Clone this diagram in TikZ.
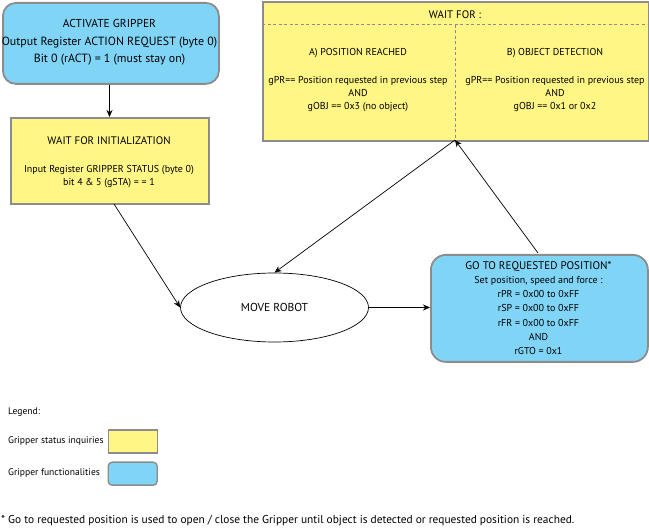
\documentclass[tikz,border=0pt]{standalone}
\usepackage{fontspec}
\setmainfont{PT Sans}
\usetikzlibrary{arrows.meta,shapes.geometric}
\definecolor{ylw}{HTML}{FFF685}
\definecolor{blu}{HTML}{80D5F7}
\definecolor{bdr}{HTML}{8C8C8C}
\tikzset{
  box/.style={draw=bdr,line width=1.8pt,inner sep=0pt,anchor=north west},
  yel/.style={box,fill=ylw},
  blue/.style={box,fill=blu,rounded corners=13pt},
  txt/.style={inner sep=0pt,align=center,font=\fontsize{10}{13}\selectfont},
  ttl/.style={inner sep=0pt,align=center,font=\fontsize{10.9}{13}\selectfont},
  leg/.style={inner sep=0pt,anchor=west,font=\fontsize{9.6}{11}\selectfont},
  arr/.style={-{Stealth[length=7pt,width=6pt]},line width=0.7pt},
  dsh/.style={draw=bdr,line width=1pt,dash pattern=on 3pt off 2.5pt}
}
\begin{document}
\begin{tikzpicture}[x=1pt,y=-1pt]
\useasboundingbox (0,0) rectangle (649,529);
% activate
\node[blue,minimum width=216pt,minimum height=81pt] (act) at (2,2) {};
\node[inner sep=0pt,align=center,font=\fontsize{11.9}{17.5}\selectfont] (actt) at (109.5,42.5)
  {{\fontsize{11.5}{14}\selectfont ACTIVATE GRIPPER}\\Output Register ACTION REQUEST (byte 0)\\Bit 0 (rACT) = 1 (must stay on)};
% init
\node[yel,rounded corners=0pt,minimum width=198pt,minimum height=86pt] (init) at (10,117) {};
\node[ttl] (initt) at (109,141) {WAIT FOR INITIALIZATION};
\node[txt] (inits) at (109,177) {Input Register GRIPPER STATUS (byte 0)\\bit 4 \& 5 (gSTA) = = 1};
% wait for
\node[yel,minimum width=386pt,minimum height=139pt] (wait) at (262,1) {};
\node[ttl] (waitt) at (455,15) {WAIT FOR :};
\coordinate (hl) at (262,25);
\coordinate (hr) at (647,25);
\coordinate (vt) at (455,25);
\coordinate (vb) at (455,140);
\draw[dsh] (hl) -- (hr);
\draw[dsh] (vt) -- (vb);
\node[txt] (pa) at (358,53) {A) POSITION REACHED};
\node[txt] (pab) at (358,94) {gPR== Position requested in previous step\\AND\\gOBJ == 0x3 (no object)};
\node[txt] (pb) at (555,53) {B) OBJECT DETECTION};
\node[txt] (pbb) at (555,94) {gPR== Position requested in previous step\\AND\\gOBJ == 0x1 or 0x2};
% move robot
\node[draw,ellipse,line width=0.7pt,minimum width=188pt,minimum height=69pt,inner sep=0pt,font=\fontsize{11.5}{13}\selectfont] (move) at (274.5,307.5) {MOVE ROBOT};
% goto
\node[blue,rounded corners=15pt,minimum width=217pt,minimum height=107pt] (goto) at (430,254) {};
\node[inner sep=0pt,align=center,font=\fontsize{10}{14.3}\selectfont] (gotot) at (538.5,308)
  {{\fontsize{11.1}{14}\selectfont GO TO REQUESTED POSITION*}\\Set position, speed and force :\\rPR = 0x00 to 0xFF\\rSP = 0x00 to 0xFF\\rFR = 0x00 to 0xFF\\AND\\rGTO = 0x1};
% arrows
\draw[arr] (act.south -| actt) ++(0,0) coordinate (a1) -- (a1 |- init.north);
\coordinate (i1) at (114,204);
\draw[arr] (i1) -- (move.west);
\draw[arr] (vb) -- (move.north);
\coordinate (g1) at (538,253);
\draw[arr] (g1) -- (vb);
\draw[arr] (move.east) -- (move.east -| goto.west);
% legend
\node[leg] (lg) at (8,412) {Legend:};
\node[leg] (l1) at (8,441) {Gripper status inquiries};
\node[leg] (l2) at (8,473) {Gripper functionalities};
\node[box,fill=ylw,line width=1.4pt,minimum width=49pt,minimum height=23pt] (ly) at (107.5,429.5) {};
\node[box,fill=blu,line width=1.4pt,rounded corners=4pt,minimum width=49pt,minimum height=23pt] (lb) at (107.5,461.5) {};
\node[inner sep=0pt,anchor=west,font=\fontsize{11.4}{12}\selectfont] (fn) at (1,521) {* Go to requested position is used to open / close the Gripper until object is detected or requested position is reached.};
\end{tikzpicture}
\end{document}
